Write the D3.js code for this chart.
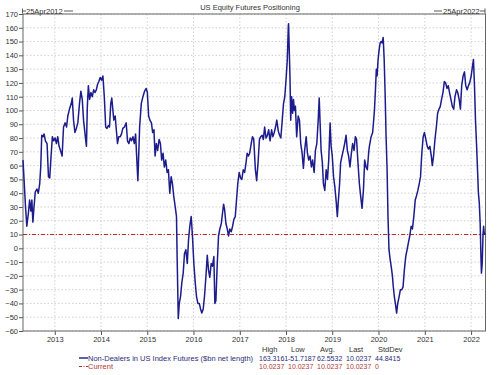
<!DOCTYPE html>
<html>
<head>
<meta charset="utf-8">
<script src="https://d3js.org/d3.v7.min.js"></script>
<style>
  body { margin: 0; background: #fff; }
  svg { display: block; font-family: "Liberation Sans", Arial, sans-serif; }
</style>
</head>
<body>
<div id="chart"></div>
<script>
// weekly net positioning, $bn
const dates = [
  "2012-04-25","2012-05-05","2012-05-15","2012-05-25","2012-06-06","2012-06-16","2012-06-26","2012-07-04","2012-07-12","2012-07-20",
  "2012-07-31","2012-08-13","2012-08-24","2012-09-04","2012-09-12","2012-09-20","2012-09-30","2012-10-08","2012-10-19","2012-11-01",
  "2012-11-12","2012-11-22","2012-12-02","2012-12-13","2012-12-23","2013-01-03","2013-01-14","2013-01-24","2013-02-04","2013-02-15",
  "2013-02-28","2013-03-11","2013-03-24","2013-04-04","2013-04-14","2013-04-27","2013-05-11","2013-05-19","2013-05-29","2013-06-09",
  "2013-06-20","2013-07-02","2013-07-15","2013-07-26","2013-08-06","2013-08-16","2013-08-30","2013-09-08","2013-09-15","2013-09-23",
  "2013-10-03","2013-10-13","2013-10-24","2013-11-04","2013-11-14","2013-11-25","2013-12-05","2013-12-15","2013-12-26","2014-01-06",
  "2014-01-16","2014-01-27","2014-02-07","2014-02-17","2014-02-28","2014-03-09","2014-03-19","2014-03-27","2014-04-04","2014-04-12",
  "2014-04-23","2014-04-30","2014-05-11","2014-05-21","2014-06-02","2014-06-12","2014-06-22","2014-07-05","2014-07-19","2014-07-29",
  "2014-08-09","2014-08-20","2014-08-30","2014-09-10","2014-09-21","2014-10-01","2014-10-11","2014-10-19","2014-11-02","2014-11-15",
  "2014-11-28","2014-12-11","2014-12-24","2015-01-02","2015-01-12","2015-01-22","2015-02-03","2015-02-13","2015-02-23","2015-03-04",
  "2015-03-14","2015-03-24","2015-04-05","2015-04-15","2015-04-25","2015-05-06","2015-05-16","2015-05-27","2015-06-07","2015-06-17",
  "2015-06-28","2015-07-09","2015-07-19","2015-07-29","2015-08-10","2015-08-20","2015-08-25","2015-09-03","2015-09-11","2015-09-21",
  "2015-10-01","2015-10-12","2015-10-22","2015-11-02","2015-11-13","2015-11-23","2015-12-03","2015-12-14","2015-12-24","2016-01-04",
  "2016-01-15","2016-01-25","2016-02-05","2016-02-16","2016-02-26","2016-03-07","2016-03-18","2016-03-28","2016-04-08","2016-04-19",
  "2016-04-29","2016-05-09","2016-05-20","2016-05-30","2016-06-10","2016-06-18","2016-06-26","2016-07-07","2016-07-17","2016-07-27",
  "2016-08-08","2016-08-18","2016-08-26","2016-09-03","2016-09-13","2016-09-24","2016-10-04","2016-10-14","2016-10-25","2016-11-05",
  "2016-11-15","2016-11-26","2016-12-06","2016-12-16","2016-12-27","2017-01-07","2017-01-17","2017-01-28","2017-02-08","2017-02-19",
  "2017-02-28","2017-03-10","2017-03-20","2017-04-01","2017-04-11","2017-04-21","2017-05-04","2017-05-14","2017-05-25","2017-06-05",
  "2017-06-15","2017-06-26","2017-07-06","2017-07-16","2017-07-27","2017-08-07","2017-08-17","2017-08-28","2017-09-09","2017-09-19",
  "2017-09-30","2017-10-10","2017-10-20","2017-11-01","2017-11-11","2017-11-21","2017-12-02","2017-12-12","2017-12-22","2018-01-03",
  "2018-01-11","2018-01-19","2018-01-21","2018-01-27","2018-02-01","2018-02-07","2018-02-14","2018-02-22","2018-03-01","2018-03-08",
  "2018-03-16","2018-03-26","2018-04-07","2018-04-17","2018-04-27","2018-05-08","2018-05-18","2018-05-28","2018-06-09","2018-06-19",
  "2018-06-29","2018-07-10","2018-07-20","2018-07-30","2018-08-11","2018-08-21","2018-09-01","2018-09-12","2018-09-20","2018-09-27",
  "2018-10-05","2018-10-15","2018-10-23","2018-11-03","2018-11-14","2018-11-24","2018-12-04","2018-12-15","2018-12-23","2019-01-01",
  "2019-01-11","2019-01-21","2019-02-02","2019-02-10","2019-02-17","2019-02-28","2019-03-08","2019-03-19","2019-03-29","2019-04-09",
  "2019-04-20","2019-04-30","2019-05-10","2019-05-21","2019-06-01","2019-06-11","2019-06-22","2019-07-02","2019-07-12","2019-07-23",
  "2019-08-03","2019-08-13","2019-08-24","2019-09-04","2019-09-14","2019-09-25","2019-10-05","2019-10-15","2019-10-21","2019-11-04",
  "2019-11-16","2019-11-30","2019-12-08","2019-12-15","2019-12-21","2019-12-29","2020-01-06","2020-01-14","2020-01-22","2020-01-30",
  "2020-02-07","2020-02-15","2020-02-23","2020-03-01","2020-03-09","2020-03-16","2020-03-24","2020-04-02","2020-04-10","2020-04-20",
  "2020-04-27","2020-05-05","2020-05-15","2020-05-23","2020-06-01","2020-06-12","2020-06-22","2020-07-03","2020-07-13","2020-07-23",
  "2020-08-03","2020-08-14","2020-08-24","2020-09-04","2020-09-15","2020-09-25","2020-10-06","2020-10-17","2020-10-27","2020-11-07",
  "2020-11-18","2020-11-28","2020-12-08","2020-12-19","2020-12-29","2021-01-09","2021-01-20","2021-01-30","2021-02-10","2021-02-21",
  "2021-03-01","2021-03-11","2021-03-22","2021-04-02","2021-04-12","2021-04-23","2021-05-03","2021-05-13","2021-05-24","2021-06-04",
  "2021-06-14","2021-06-25","2021-07-05","2021-07-15","2021-07-26","2021-08-06","2021-08-17","2021-08-27","2021-09-08","2021-09-18",
  "2021-09-29","2021-10-09","2021-10-19","2021-10-30","2021-11-10","2021-11-20","2021-12-01","2021-12-11","2021-12-21","2022-01-02",
  "2022-01-12","2022-01-20","2022-01-28","2022-02-05","2022-02-13","2022-02-21","2022-02-28","2022-03-07","2022-03-14","2022-03-20",
  "2022-03-24","2022-03-30","2022-04-05","2022-04-10","2022-04-15","2022-04-25"
];
const values = [
  64,47,30,16,25,35,27,35,19,29,
  41,43,40,47,59,82,81,83,78,76,
  52,51,66,81,78,80,76,81,74,71,
  67,88,91,88,96,101,105,109,93,84,
  87,91,105,114,108,93,81,74,103,118,
  108,113,110,115,113,115,119,121,124,122,
  125,110,88,87,89,88,105,109,101,93,
  96,88,76,81,81,83,87,88,91,78,
  76,80,78,81,76,83,64,49,88,105,
  110,114,116,113,96,93,91,84,86,67,
  76,71,79,76,64,69,59,64,55,57,
  40,52,47,38,30,23,-6,-51,-40,-35,
  -25,-18,-4,-1,-11,6,16,23,9,-11,
  -25,-35,-40,-40,-44,-47,-44,-35,-21,-5,
  -16,-21,-11,-13,-6,-40,-38,-11,9,14,
  18,26,32,28,18,14,9,14,12,16,
  21,23,35,47,55,51,50,57,55,62,
  69,67,69,76,81,79,57,49,62,79,
  81,82,79,88,80,82,86,78,86,81,
  84,88,93,85,82,80,93,105,110,125,
  137,161,163,142,125,93,110,98,108,100,
  103,81,96,93,76,69,58,71,81,69,
  64,67,59,64,55,71,76,93,109,91,
  71,62,47,42,57,50,64,91,74,67,
  52,45,33,23,33,47,62,67,71,76,
  82,71,67,59,69,76,71,81,79,62,
  47,38,29,42,64,59,57,69,74,81,
  84,100,115,130,125,137,144,149,150,149,
  153,137,110,81,57,23,-1,-8,-13,-20,
  -28,-35,-41,-47,-40,-35,-30,-30,-28,-16,
  -6,-1,4,9,16,14,23,35,38,42,
  47,52,69,81,84,79,74,72,74,67,
  60,67,79,88,98,101,103,108,113,121,
  120,116,118,113,108,103,101,110,115,113,
  108,101,118,125,128,118,115,118,120,125,
  132,137,118,93,76,57,40,33,18,-6,
  -18,-11,9,16,11,10.0237
];
const currentLevel = 10.0237;

const yTickValues = [-60,-50,-40,-30,-20,-10,0,10,20,30,40,50,60,70,80,90,100,110,120,130,140,150,160,170];
const yearTicks = [2013,2014,2015,2016,2017,2018,2019,2020,2021,2022];

const seriesName = "Non-Dealers in US Index Futures ($bn net length)";
const currentName = "Current";
const statHeaders = ["High","Low","Avg.","Last","StdDev"];
const seriesStats = ["163.3161","-51.7187","62.5532","10.0237","44.8415"];
const currentStats = ["10.0237","10.0237","10.0237","10.0237","0"];

const W = 500, H = 375;
const plot = { left: 23, right: 485.5, top: 14, bottom: 331 };
const lineColor = "#1c1c8c", currentColor = "#c0262a";

const svg = d3.select("#chart").append("svg")
  .attr("width", W).attr("height", H);
svg.append("rect").attr("width", W).attr("height", H).attr("fill", "#fff");

const parse = d3.timeParse("%Y-%m-%d");
const data = dates.map((d, i) => ({ date: parse(d), value: values[i] }));

const x = d3.scaleTime()
  .domain([parse("2012-04-25"), parse("2022-04-25")])
  .range([plot.left, plot.right]);
const y = d3.scaleLinear()
  .domain([-60, 170])
  .range([plot.bottom, plot.top]);

// grid
const grid = svg.append("g").attr("stroke", "#c4c4c4").attr("stroke-width", 0.8)
  .attr("stroke-dasharray", "1.5,2");
grid.selectAll("line.h").data(yTickValues).enter().append("line")
  .attr("x1", plot.left).attr("x2", plot.right)
  .attr("y1", d => y(d)).attr("y2", d => y(d));
grid.selectAll("line.v").data(yearTicks).enter().append("line")
  .attr("x1", d => x(new Date(d, 0, 1))).attr("x2", d => x(new Date(d, 0, 1)))
  .attr("y1", plot.top).attr("y2", plot.bottom);

// axes
const yAxis = svg.append("g")
  .attr("transform", "translate(" + plot.left + ",0)")
  .call(d3.axisLeft(y).tickValues(yTickValues).tickSize(4).tickPadding(1));
const xAxis = svg.append("g")
  .attr("transform", "translate(0," + plot.bottom + ")")
  .call(d3.axisBottom(x).tickValues(yearTicks.map(d => new Date(d, 0, 1)))
    .tickFormat(d3.timeFormat("%Y")).tickSize(4).tickPadding(2));
[yAxis, xAxis].forEach(a => {
  a.select(".domain").remove();
  a.selectAll("line").attr("stroke", "#555");
  a.selectAll("text").attr("fill", "#333").style("font-size", "7.5px")
    .style("font-family", "'Liberation Sans', Arial, sans-serif");
});

// frame
svg.append("rect")
  .attr("x", plot.left).attr("y", plot.top)
  .attr("width", plot.right - plot.left).attr("height", plot.bottom - plot.top)
  .attr("fill", "none").attr("stroke", "#666").attr("stroke-width", 1);

// current level
svg.append("line")
  .attr("x1", plot.left).attr("x2", plot.right)
  .attr("y1", y(currentLevel)).attr("y2", y(currentLevel))
  .attr("stroke", currentColor).attr("stroke-width", 1)
  .attr("stroke-dasharray", "4,2,1,2");

// series
svg.append("path")
  .datum(data)
  .attr("fill", "none")
  .attr("stroke", lineColor)
  .attr("stroke-width", 1.5)
  .attr("stroke-linejoin", "round")
  .attr("d", d3.line().x(d => x(d.date)).y(d => y(d.value)));

// title and range markers
svg.append("text").attr("x", 250).attr("y", 9.5).attr("text-anchor", "middle")
  .attr("fill", "#333").style("font-size", "7.5px").text("US Equity Futures Positioning");

const fmt = d3.timeFormat("%d%b%Y");
const startLbl = fmt(x.domain()[0]), endLbl = fmt(x.domain()[1]);
const mk = svg.append("g").attr("stroke", "#333").attr("stroke-width", 0.8);
mk.append("line").attr("x1", 22.5).attr("x2", 22.5).attr("y1", 8.5).attr("y2", 13.5);
mk.append("line").attr("x1", 22.5).attr("x2", 26).attr("y1", 11).attr("y2", 11);
mk.append("line").attr("x1", 64).attr("x2", 73).attr("y1", 11).attr("y2", 11);
mk.append("line").attr("x1", 434).attr("x2", 442).attr("y1", 11).attr("y2", 11);
mk.append("line").attr("x1", 480).attr("x2", 485).attr("y1", 11).attr("y2", 11);
mk.append("line").attr("x1", 485).attr("x2", 485).attr("y1", 8.5).attr("y2", 13.5);
svg.append("text").attr("x", 26).attr("y", 13.5).attr("fill", "#333")
  .style("font-size", "7.5px").text(startLbl);
svg.append("text").attr("x", 443).attr("y", 13.5).attr("fill", "#333")
  .style("font-size", "7.5px").text(endLbl);

// legend
const colX = [259, 288, 317, 346, 375];
const rowY = [352, 360.5, 369];
const lg = svg.append("g").style("font-size", "7.5px");
lg.selectAll("text.h").data(statHeaders).enter().append("text")
  .attr("x", (d, i) => colX[i] + 3).attr("y", rowY[0]).attr("fill", "#333").text(d => d);

lg.append("line").attr("x1", 79).attr("x2", 88).attr("y1", rowY[1] - 2.5).attr("y2", rowY[1] - 2.5)
  .attr("stroke", lineColor).attr("stroke-width", 1.4);
lg.append("text").attr("x", 88).attr("y", rowY[1]).attr("fill", "#2c2c7a").text(seriesName);
lg.selectAll("text.s").data(seriesStats).enter().append("text")
  .attr("x", (d, i) => colX[i]).attr("y", rowY[1]).attr("fill", "#2c2c7a")
  .style("font-size", "7px").text(d => d);

lg.append("line").attr("x1", 79).attr("x2", 88).attr("y1", rowY[2] - 2.5).attr("y2", rowY[2] - 2.5)
  .attr("stroke", currentColor).attr("stroke-width", 1).attr("stroke-dasharray", "3,1.5,1,1.5");
lg.append("text").attr("x", 88).attr("y", rowY[2]).attr("fill", "#b03a3a").text(currentName);
lg.selectAll("text.c").data(currentStats).enter().append("text")
  .attr("x", (d, i) => colX[i]).attr("y", rowY[2]).attr("fill", "#b03a3a")
  .style("font-size", "7px").text(d => d);
</script>
</body>
</html>
